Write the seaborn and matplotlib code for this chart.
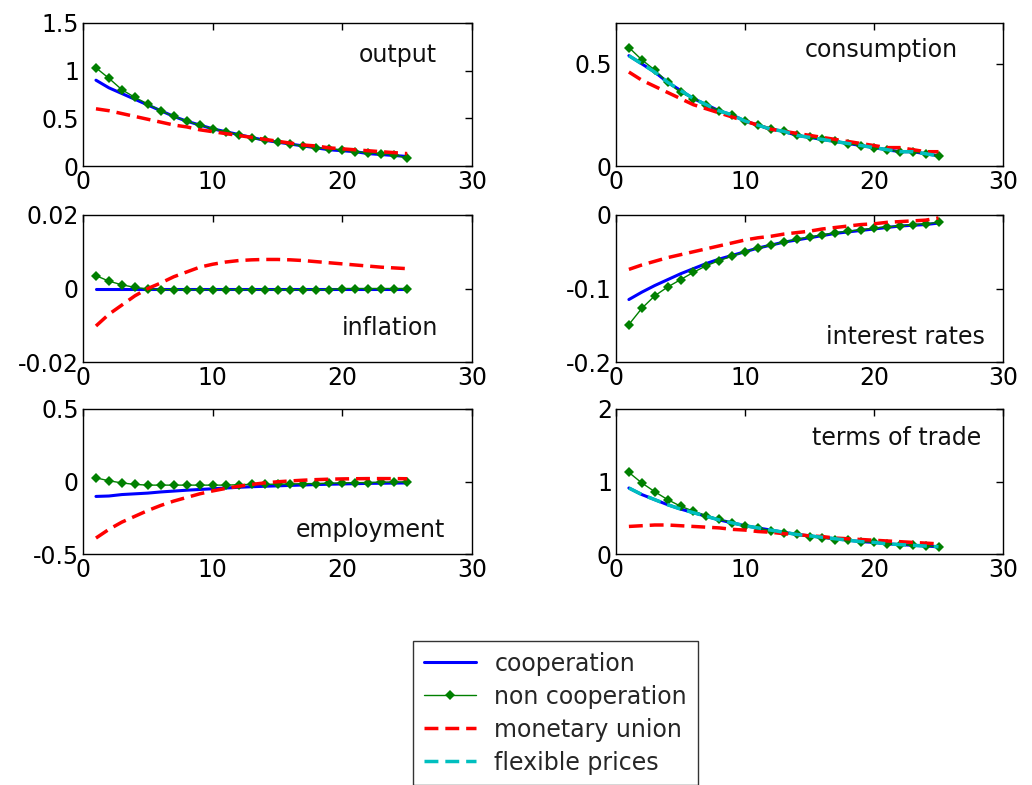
import numpy as np
import pandas as pd
import matplotlib
matplotlib.use("Agg")
import matplotlib.pyplot as plt
import seaborn as sns

periods = list(range(1, 26))

# output
out_coop = [0.90, 0.82, 0.76, 0.70, 0.64, 0.58, 0.52, 0.47, 0.43, 0.39, 0.36, 0.33, 0.30,
            0.27, 0.25, 0.23, 0.21, 0.19, 0.17, 0.16, 0.15, 0.13, 0.12, 0.11, 0.10]
out_noncoop = [1.03, 0.92, 0.80, 0.72, 0.65, 0.58, 0.52, 0.47, 0.43, 0.39, 0.36, 0.33, 0.29,
               0.27, 0.25, 0.23, 0.21, 0.19, 0.18, 0.17, 0.15, 0.14, 0.13, 0.12, 0.08]
out_mu = [0.60, 0.58, 0.55, 0.52, 0.49, 0.46, 0.43, 0.41, 0.38, 0.36, 0.34, 0.32, 0.30,
          0.28, 0.26, 0.24, 0.22, 0.21, 0.19, 0.18, 0.17, 0.16, 0.15, 0.14, 0.13]

# consumption
con_coop = [0.54, 0.50, 0.46, 0.41, 0.37, 0.33, 0.30, 0.27, 0.25, 0.22, 0.20, 0.18, 0.17,
            0.15, 0.14, 0.13, 0.12, 0.11, 0.10, 0.09, 0.08, 0.07, 0.07, 0.06, 0.05]
con_noncoop = [0.58, 0.52, 0.47, 0.41, 0.36, 0.33, 0.30, 0.27, 0.25, 0.22, 0.20, 0.18, 0.17,
               0.15, 0.14, 0.13, 0.12, 0.11, 0.10, 0.09, 0.08, 0.07, 0.07, 0.06, 0.05]
con_mu = [0.46, 0.42, 0.39, 0.36, 0.33, 0.30, 0.28, 0.26, 0.24, 0.22, 0.20, 0.18, 0.17,
          0.16, 0.15, 0.14, 0.13, 0.12, 0.11, 0.10, 0.09, 0.09, 0.08, 0.07, 0.07]
con_flex = [0.54, 0.50, 0.46, 0.41, 0.37, 0.33, 0.30, 0.27, 0.25, 0.22, 0.20, 0.18, 0.17,
            0.15, 0.14, 0.13, 0.12, 0.11, 0.10, 0.09, 0.08, 0.07, 0.07, 0.06, 0.05]

# inflation
inf_coop = [0.0] * 25
inf_noncoop = [0.0035, 0.0020, 0.0010, 0.0003, -0.0001, -0.0003, -0.0003, -0.0003, -0.0003,
               -0.0003, -0.0003, -0.0003, -0.0003, -0.0003, -0.0003, -0.0003, -0.0003,
               -0.0003, -0.0003, 0.0, 0.0, 0.0, 0.0, 0.0, 0.0]
inf_mu = [-0.0102, -0.0070, -0.0045, -0.0020, 0.0000, 0.0015, 0.0032, 0.0045, 0.0058, 0.0066,
          0.0072, 0.0076, 0.0078, 0.0079, 0.0079, 0.0078, 0.0076, 0.0073, 0.0070, 0.0067,
          0.0064, 0.0061, 0.0058, 0.0056, 0.0054]

# interest rates
int_coop = [-0.115, -0.105, -0.096, -0.088, -0.080, -0.073, -0.066, -0.060, -0.055, -0.050,
            -0.045, -0.041, -0.037, -0.034, -0.031, -0.028, -0.025, -0.023, -0.021, -0.019,
            -0.017, -0.015, -0.014, -0.013, -0.011]
int_noncoop = [-0.149, -0.127, -0.110, -0.098, -0.088, -0.078, -0.069, -0.062, -0.056, -0.050,
               -0.045, -0.041, -0.037, -0.033, -0.030, -0.027, -0.024, -0.022, -0.020, -0.018,
               -0.016, -0.015, -0.013, -0.012, -0.010]
int_mu = [-0.074, -0.068, -0.063, -0.058, -0.054, -0.050, -0.046, -0.042, -0.038, -0.034,
          -0.031, -0.029, -0.026, -0.024, -0.022, -0.019, -0.017, -0.015, -0.013, -0.012,
          -0.010, -0.009, -0.008, -0.007, -0.004]

# employment
emp_coop = [-0.103, -0.100, -0.090, -0.085, -0.080, -0.072, -0.066, -0.060, -0.055, -0.050,
            -0.045, -0.040, -0.036, -0.033, -0.030, -0.027, -0.024, -0.021, -0.019, -0.017,
            -0.015, -0.013, -0.012, -0.011, -0.010]
emp_noncoop = [0.025, 0.005, -0.010, -0.020, -0.025, -0.025, -0.025, -0.025, -0.025, -0.025,
               -0.025, -0.022, -0.020, -0.020, -0.018, -0.017, -0.015, -0.014, -0.012, -0.010,
               -0.008, -0.007, -0.005, -0.004, -0.003]
emp_mu = [-0.390, -0.330, -0.280, -0.240, -0.200, -0.165, -0.135, -0.110, -0.085, -0.065,
          -0.048, -0.033, -0.020, -0.010, -0.002, 0.004, 0.009, 0.013, 0.016, 0.018,
          0.019, 0.020, 0.020, 0.020, 0.019]

# terms of trade
tot_coop = [0.91, 0.82, 0.75, 0.68, 0.62, 0.57, 0.52, 0.47, 0.43, 0.39, 0.36, 0.33, 0.30,
            0.27, 0.25, 0.23, 0.21, 0.19, 0.17, 0.16, 0.14, 0.13, 0.12, 0.11, 0.10]
tot_noncoop = [1.125, 0.98, 0.86, 0.75, 0.66, 0.59, 0.53, 0.48, 0.43, 0.39, 0.36, 0.32, 0.29,
               0.27, 0.24, 0.22, 0.20, 0.19, 0.17, 0.16, 0.14, 0.13, 0.12, 0.11, 0.10]
tot_mu = [0.38, 0.39, 0.40, 0.40, 0.39, 0.38, 0.37, 0.36, 0.34, 0.33, 0.31, 0.30, 0.28,
          0.27, 0.25, 0.24, 0.22, 0.21, 0.20, 0.19, 0.18, 0.17, 0.16, 0.15, 0.14]
tot_flex = [0.91, 0.82, 0.75, 0.68, 0.62, 0.57, 0.52, 0.47, 0.43, 0.39, 0.36, 0.33, 0.30,
            0.27, 0.25, 0.23, 0.21, 0.19, 0.17, 0.16, 0.14, 0.13, 0.12, 0.11, 0.10]

series_names = ["cooperation", "non cooperation", "monetary union", "flexible prices"]
panel_titles = ["output", "consumption", "inflation", "interest rates", "employment", "terms of trade"]
x_ticks = [0, 10, 20, 30]
y_limits = [(0, 1.5), (0, 0.7), (-0.02, 0.02), (-0.2, 0), (-0.5, 0.5), (0, 2)]
y_ticks = [[0, 0.5, 1, 1.5], [0, 0.5], [-0.02, 0, 0.02], [-0.2, -0.1, 0], [-0.5, 0, 0.5], [0, 1, 2]]
y_ticklabels = [["0", "0.5", "1", "1.5"], ["0", "0.5"], ["-0.02", "0", "0.02"],
                ["-0.2", "-0.1", "0"], ["-0.5", "0", "0.5"], ["0", "1", "2"]]

panels = [
    [out_coop, out_noncoop, out_mu, None],
    [con_coop, con_noncoop, con_mu, con_flex],
    [inf_coop, inf_noncoop, inf_mu, None],
    [int_coop, int_noncoop, int_mu, None],
    [emp_coop, emp_noncoop, emp_mu, None],
    [tot_coop, tot_noncoop, tot_mu, tot_flex],
]

sns.set_style("white")
plt.rcParams["font.family"] = ["DejaVu Sans"]
plt.rcParams["font.size"] = 17

styles = {
    "cooperation": dict(color=(0, 0, 1), lw=2.2, linestyle="-"),
    "non cooperation": dict(color=(0, 0.5, 0), lw=1.0, linestyle="-", marker="D", markersize=5.5,
                            markeredgewidth=0),
    "monetary union": dict(color=(1, 0, 0), lw=2.5, linestyle=(0, (4, 2))),
    "flexible prices": dict(color=(0, 0.75, 0.75), lw=2.5, linestyle=(0, (4, 2))),
}

fig = plt.figure(figsize=(10.32, 7.85), dpi=100)
W, H = 1032, 785
col_x = [(83, 472), (616, 1003)]
row_y = [(23, 166), (215, 362), (409, 554)]
label_pos = [(0.81, 0.776), (0.685, 0.81), (0.789, 0.23), (0.749, 0.17), (0.74, 0.165), (0.726, 0.80)]

legend_handles = {}
for i, data in enumerate(panels):
    r, c = divmod(i, 2)
    x0, x1 = col_x[c]
    yt, yb = row_y[r]
    ax = fig.add_axes([x0 / W, 1 - yb / H, (x1 - x0) / W, (yb - yt) / H])
    for name, vals in zip(series_names, data):
        if vals is None:
            continue
        st = styles[name]
        sns.lineplot(x=periods, y=vals, ax=ax, label=name, legend=False, **st)
    ax.set_xlim(0, 30)
    ax.set_ylim(*y_limits[i])
    ax.set_xticks(x_ticks)
    ax.set_xticklabels([str(v) for v in x_ticks])
    ax.set_yticks(y_ticks[i])
    ax.set_yticklabels(y_ticklabels[i])
    ax.tick_params(direction="in", top=True, right=True, length=5, width=1, labelsize=17,
                   colors="black", pad=3)
    for s in ax.spines.values():
        s.set_visible(True)
        s.set_color("black")
        s.set_linewidth(1)
    ax.set_xlabel("")
    ax.set_ylabel("")
    ax.text(label_pos[i][0], label_pos[i][1], panel_titles[i], transform=ax.transAxes,
            ha="center", va="center", fontsize=17, color="#111111")
    for line in ax.get_lines():
        lab = line.get_label()
        if lab in series_names and lab not in legend_handles:
            legend_handles[lab] = line

handles = [legend_handles[n] for n in series_names]
leg = fig.legend(handles, series_names, loc="upper left",
                 bbox_to_anchor=(413 / W, 1 - 641 / H), frameon=True, fancybox=False,
                 edgecolor="black", fontsize=17, handlelength=2.2, labelspacing=0.38,
                 borderpad=0.45, handletextpad=0.8, borderaxespad=0)
leg.get_frame().set_linewidth(1)

fig.savefig("out.png", dpi=100, facecolor="white")
